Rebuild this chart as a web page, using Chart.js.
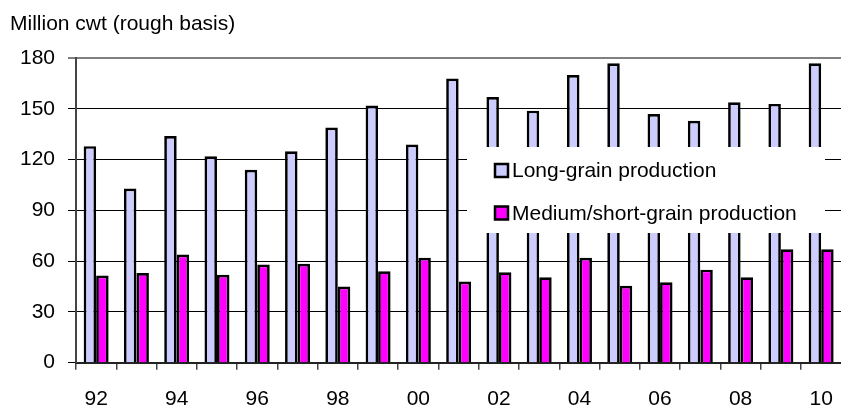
<!DOCTYPE html>
<html>
<head>
<meta charset="utf-8">
<script src="https://cdn.jsdelivr.net/npm/chart.js@4/dist/chart.umd.min.js"></script>
<style>
  html, body { margin: 0; padding: 0; background: #fff; overflow: hidden; }
  #wrap { width: 850px; height: 407px; }
</style>
</head>
<body>
<div id="wrap"><canvas id="c" width="850" height="407"></canvas></div>
<script>
// U.S. rice production by class, 1992-2010 (million cwt, rough basis)
const years = ['92','93','94','95','96','97','98','99','00','01','02','03','04','05','06','07','08','09','10'];
const longGrain = [128, 103, 134, 122, 114, 125, 139, 152, 129, 168, 157, 149, 170, 177, 147, 143, 154, 153, 177];
const mediumShortGrain = [51.5, 53, 64, 52, 58, 58.5, 45, 54, 62, 48, 53.5, 50.5, 62, 45.5, 47.5, 55, 50.5, 67, 67];
const yTicks = [0, 30, 60, 90, 120, 150, 180];
const seriesNames = ['Long-grain production', 'Medium/short-grain production'];
const FONT = "'Liberation Sans', Arial, sans-serif";

// Legend drawn on a white panel inside the plot area
const boxedLegend = {
  id: 'boxedLegend',
  afterDatasetsDraw(chart) {
    const ctx = chart.ctx;
    ctx.save();
    ctx.fillStyle = '#ffffff';
    ctx.fillRect(467, 147, 358, 86);
    const rows = [170.5, 213];
    chart.data.datasets.forEach((ds, i) => {
      const y = rows[i];
      ctx.fillStyle = ds.backgroundColor;
      ctx.fillRect(495, y - 6.5, 13, 13);
      ctx.lineWidth = 2.5;
      ctx.strokeStyle = '#000';
      ctx.strokeRect(495, y - 6.5, 13, 13);
      ctx.fillStyle = '#000';
      ctx.font = '21px ' + FONT;
      ctx.textBaseline = 'middle';
      ctx.textAlign = 'left';
      ctx.fillText(ds.label, 512, y + 1);
    });
    ctx.restore();
  }
};

new Chart(document.getElementById('c'), {
  type: 'bar',
  data: {
    labels: years,
    datasets: [
      { label: seriesNames[0], data: longGrain, backgroundColor: '#ccccff', borderColor: '#000', borderWidth: 2.7,
        categoryPercentage: 0.62, barPercentage: 1.0 },
      { label: seriesNames[1], data: mediumShortGrain, backgroundColor: '#ff00ff', borderColor: '#000', borderWidth: 2.7,
        categoryPercentage: 0.62, barPercentage: 1.0 }
    ]
  },
  options: {
    responsive: false,
    animation: false,
    layout: { padding: { left: 10, right: 6.4, top: 0, bottom: 0 } },
    plugins: {
      legend: { display: false },
      tooltip: { enabled: false },
      title: {
        display: true,
        text: 'Million cwt (rough basis)',
        align: 'start',
        color: '#000',
        font: { family: FONT, size: 21, weight: 'normal' },
        padding: { top: 12, bottom: 21 }
      }
    },
    scales: {
      x: {
        grid: { offset: true, drawOnChartArea: false, drawTicks: true, tickLength: 7, color: '#444', lineWidth: 1.5 },
        border: { display: true, color: '#222', width: 2 },
        ticks: {
          autoSkip: false, maxRotation: 0, color: '#000', padding: 17,
          font: { family: FONT, size: 21 },
          callback: (v, i) => (i % 2 === 0 ? years[i] : '')
        },
        afterFit: (s) => { s.height = 44.3; }
      },
      y: {
        min: 0, max: 180,
        afterBuildTicks: (s) => { s.ticks = yTicks.map(v => ({ value: v })); },
        grid: {
          color: (c) => (c.tick && c.tick.value === 180 ? '#808080' : '#000'),
          lineWidth: (c) => (c.tick && c.tick.value === 180 ? 2 : 1),
          tickLength: 8, drawTicks: true
        },
        border: { display: true, color: '#444', width: 2 },
        ticks: { color: '#000', padding: 13, font: { family: FONT, size: 21 } },
        afterFit: (s) => { s.width = 66; }
      }
    }
  },
  plugins: [boxedLegend]
});
</script>
</body>
</html>
